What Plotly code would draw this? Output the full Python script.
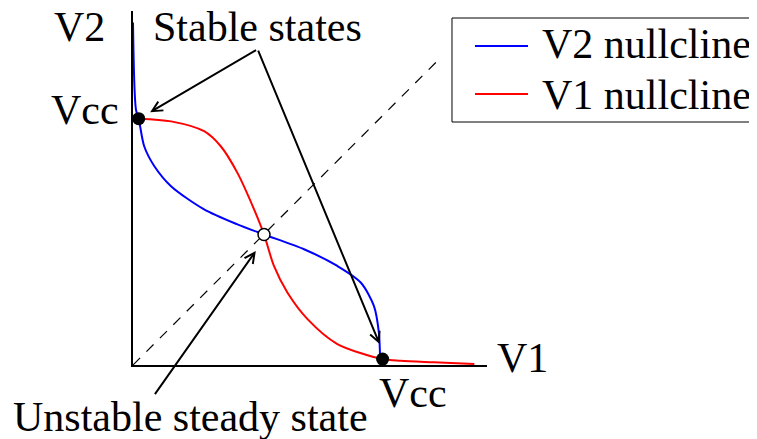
import plotly.graph_objects as go

# nullclines (units of Vcc)
v1_null_x = [0.023, 0.153, 0.286, 0.353, 0.420, 0.487, 0.527, 0.567, 0.621, 0.702, 0.822, 1.004, 1.076, 1.21, 1.373]
v1_null_y = [1.0, 0.989, 0.949, 0.888, 0.780, 0.632, 0.530, 0.402, 0.294, 0.186, 0.085, 0.024, 0.017, 0.011, 0.004]

v2_null_x = [0.0, 0.012, 0.023, 0.045, 0.086, 0.153, 0.286, 0.420, 0.527, 0.688, 0.822, 0.916, 0.969, 0.989, 0.994]
v2_null_y = [1.39, 1.036, 1.0, 0.888, 0.807, 0.726, 0.632, 0.571, 0.530, 0.470, 0.402, 0.335, 0.240, 0.132, 0.024]

# diagonal V1 = V2
diag_x = [0.0, 1.22]
diag_y = [0.0, 1.23]

# fixed points
stable_x = [0.023, 1.004]
stable_y = [1.0, 0.024]
unstable_x = [0.527]
unstable_y = [0.530]

FONT = "Liberation Serif, Times New Roman, serif"
FS = 42

fig = go.Figure()

fig.add_trace(go.Scatter(x=diag_x, y=diag_y, mode='lines',
                         line=dict(color='black', width=1.2, dash='10px,9px'),
                         showlegend=False, hoverinfo='skip'))
fig.add_trace(go.Scatter(x=v2_null_x, y=v2_null_y, mode='lines', name='V2 nullcline',
                         line=dict(color='#0000ff', width=2, shape='spline', smoothing=0.8),
                         showlegend=False))
fig.add_trace(go.Scatter(x=v1_null_x, y=v1_null_y, mode='lines', name='V1 nullcline',
                         line=dict(color='#ff0000', width=2, shape='spline', smoothing=0.8),
                         showlegend=False))
fig.add_trace(go.Scatter(x=stable_x, y=stable_y, mode='markers',
                         marker=dict(color='black', size=13),
                         showlegend=False))
fig.add_trace(go.Scatter(x=unstable_x, y=unstable_y, mode='markers',
                         marker=dict(color='white', size=12, line=dict(color='black', width=1.5)),
                         showlegend=False))

# arrows: (tip x, tip y, tail x, tail y)
arrows = [
    (0.069, 1.026, 0.501, 1.282),
    (0.992, 0.085, 0.501, 1.282),
    (0.494, 0.463, 0.084, -0.124),
]
for tx, ty, sx, sy in arrows:
    fig.add_annotation(x=tx, y=ty, ax=sx, ay=sy, xref='x', yref='y', axref='x', ayref='y',
                       text='', showarrow=True, arrowhead=5, arrowsize=1, arrowwidth=2,
                       arrowcolor='black', standoff=0)

# text labels (paper coords)
labels = [
    ('V2', -0.1525, 0.9548, 'center'),
    ('Stable states', 0.3531, 0.9548, 'center'),
    ('Vcc', -0.0339, 0.7203, 'right'),
    ('Vcc', 0.791, -0.0791, 'center'),
    ('V1', 1.0989, 0.0198, 'center'),
    ('Unstable steady state', 0.1638, -0.1469, 'center'),
]
for txt, lx, ly, anc in labels:
    fig.add_annotation(x=lx, y=ly, xref='paper', yref='paper', text=txt, showarrow=False,
                       xanchor=anc, yanchor='middle',
                       font=dict(family=FONT, size=FS, color='black'))

# hand-drawn legend box
fig.add_shape(type='rect', xref='paper', yref='paper', x0=0.9011, x1=1.7599, y0=0.6864, y1=0.9802,
              line=dict(color='black', width=1), fillcolor='white', layer='below')
legend_items = [('V2 nullcline', '#0000ff', 0.9011, 0.9054),
                ('V1 nullcline', '#ff0000', 0.7655, 0.7627)]
for name, col, ly, ty in legend_items:
    fig.add_shape(type='line', xref='paper', yref='paper', x0=0.9661, x1=1.1158, y0=ly, y1=ly,
                  line=dict(color=col, width=2))
    fig.add_annotation(x=1.1497, y=ty, xref='paper', yref='paper', text=name, showarrow=False,
                       xanchor='left', yanchor='middle',
                       font=dict(family=FONT, size=FS, color='black'))

fig.update_xaxes(range=[0, 1.424], showline=True, linecolor='black', linewidth=2,
                 showgrid=False, zeroline=False, showticklabels=False, ticks='')
fig.update_yaxes(range=[0, 1.437], showline=True, linecolor='black', linewidth=2,
                 showgrid=False, zeroline=False, showticklabels=False, ticks='')

fig.update_layout(width=757, height=439, margin=dict(l=125, r=278, t=3, b=82),
                  plot_bgcolor='white', paper_bgcolor='white', showlegend=False)

fig.write_html("out.html")
